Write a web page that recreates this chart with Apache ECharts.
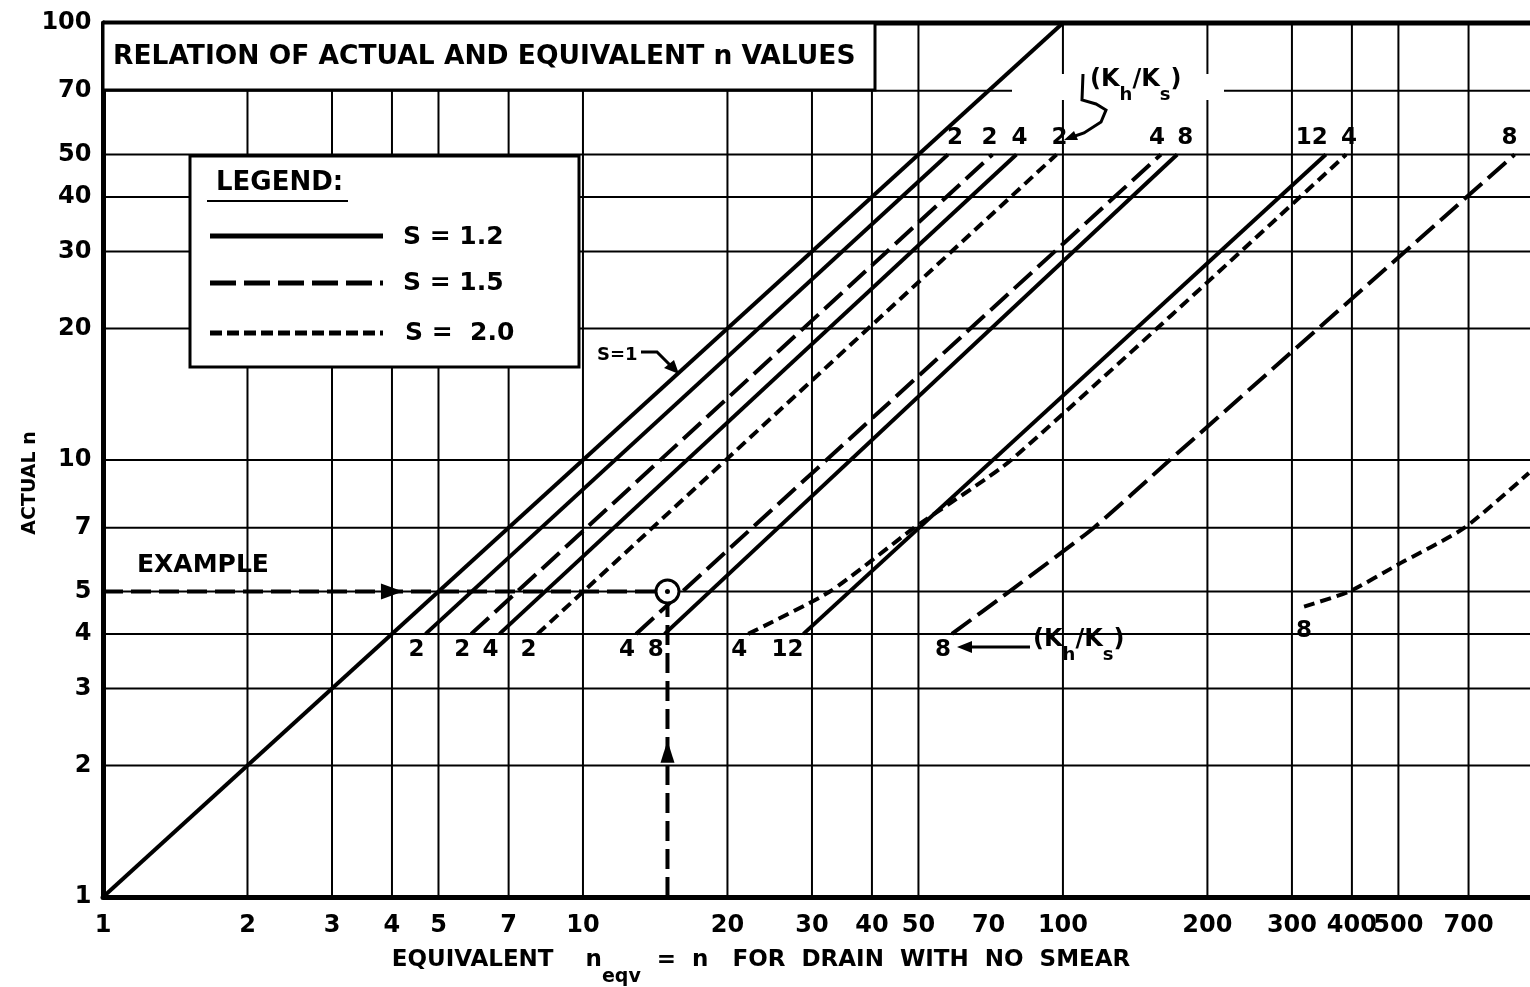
<!DOCTYPE html>
<html><head><meta charset="utf-8">
<script src="https://cdn.jsdelivr.net/npm/echarts@6/dist/echarts.min.js"></script>
<style>html,body{margin:0;padding:0;background:#fff}#c{width:1530px;height:987px}</style>
</head><body><div id="c"></div>
<script>
// ---- tick labels / grid values ----
const xTicks = [1, 2, 3, 4, 5, 7, 10, 20, 30, 40, 50, 70, 100, 200, 300, 400, 500, 700];
const yTicks = [1, 2, 3, 4, 5, 7, 10, 20, 30, 40, 50, 70, 100];
const xGridValues = [2, 3, 4, 5, 7, 10, 20, 30, 40, 50, 100, 200, 300, 400, 500, 700];
const yGridValues = [2, 3, 4, 5, 7, 10, 20, 30, 40, 50, 70];
const xAxisMax = 940, yAxisMax = 100;

// ---- curves: [equivalent n, actual n] ----
const lineS1 = [[1, 1], [100, 100]];
const s12k2 = [[4.7, 4], [57.6, 50]];
const s12k4 = [[6.7, 4], [80, 50]];
const s12k8 = [[14.8, 4], [173, 50]];
const s12k12 = [[28.8, 4], [353, 50]];
const s15k2 = [[5.85, 4], [71.3, 50]];
const s15k4 = [[12.9, 4], [160, 50]];
const s15k8 = [[58.7, 4], [77.3, 5], [116, 7], [167, 10], [873, 50]];
const s20k2 = [[8.04, 4], [97, 50]];
const s20k4 = [[22.1, 4], [32.7, 5], [49, 7], [78, 10], [389, 50]];
const s20k8 = [[318, 4.62], [395, 5], [497, 5.75], [687, 7], [935, 9.34]];

// ---- example ----
const exampleActual = 5;
const exampleEqv = 15;
const exampleArrowEqv = 4;
const exampleArrowActual = 2.15;

const FONT = '"DejaVu Sans", "Liberation Sans", sans-serif';
const dashBySmear = { '1.2': 'solid', '1.5': [24, 8], '2.0': [11, 6] };

const curves = [
  { data: s12k2, s: '1.2', k: '2' },
  { data: s15k2, s: '1.5', k: '2' },
  { data: s12k4, s: '1.2', k: '4' },
  { data: s20k2, s: '2.0', k: '2' },
  { data: s15k4, s: '1.5', k: '4' },
  { data: s12k8, s: '1.2', k: '8' },
  { data: s20k4, s: '2.0', k: '4', curved: true },
  { data: s12k12, s: '1.2', k: '12' },
  { data: s15k8, s: '1.5', k: '8', curved: true },
  { data: s20k8, s: '2.0', k: '8', curved: true }
];
// label placement styles (per curve index)
const topOffset = { 0: [7, 0], 1: [-3, 0], 4: [-4, 0], 5: [8, 0], 7: [-14, 0], 8: [-5, 0] };
const bottomOffset = { 7: [-16, 0], 9: [0, 8] };
const noTopLabel = { 9: true };

const series = [];
const base = { type: 'line', symbol: 'none', silent: true, animation: false, clip: false };

xGridValues.forEach(v => series.push(Object.assign({}, base, {
  data: [[v, 1], [v, yAxisMax]], lineStyle: { color: '#000', width: 2 }, z: 1 })));
yGridValues.forEach(v => series.push(Object.assign({}, base, {
  data: [[1, v], [xAxisMax, v]], lineStyle: { color: '#000', width: 2 }, z: 1 })));
series.push(Object.assign({}, base, {
  data: [[1, yAxisMax], [xAxisMax, yAxisMax]], lineStyle: { color: '#000', width: 5 }, z: 1 }));

series.push(Object.assign({}, base, { data: lineS1, lineStyle: { color: '#000', width: 4 }, z: 3 }));
curves.forEach(c => series.push(Object.assign({}, base, {
  data: c.data, smooth: c.curved ? 0.2 : false,
  lineStyle: { color: '#000', width: 4, type: dashBySmear[c.s] }, z: 3 })));

// curve end labels
const endLabels = [];
curves.forEach((c, i) => {
  const first = c.data[0], last = c.data[c.data.length - 1];
  endLabels.push({ value: first, label: { position: 'bottom', distance: 4, offset: bottomOffset[i] || [-9, 0], formatter: c.k } });
  if (!noTopLabel[i]) endLabels.push({ value: last, label: { position: 'top', distance: 5, offset: topOffset[i] || [3, 0], formatter: c.k } });
});
const labelStyle = { show: true, color: '#000', opacity: 1, fontFamily: FONT, fontWeight: 'bold', fontSize: 23 };
const hiddenItem = { color: 'rgba(0,0,0,0)', opacity: 1 };
series.push({ type: 'scatter', data: endLabels, symbolSize: 1, itemStyle: hiddenItem,
  label: labelStyle, silent: true, animation: false, clip: false, z: 6 });

// axis tick labels
series.push({ type: 'scatter', data: xTicks.map(v => [v, 1]), symbolSize: 1, itemStyle: hiddenItem,
  label: Object.assign({}, labelStyle, { fontSize: 24, position: 'bottom', distance: 16, formatter: p => String(p.value[0]) }),
  silent: true, animation: false, clip: false });
series.push({ type: 'scatter', data: yTicks.map(v => [1, v]), symbolSize: 1, itemStyle: hiddenItem,
  label: Object.assign({}, labelStyle, { fontSize: 24, position: 'left', distance: 11, formatter: p => String(p.value[1]) }),
  silent: true, animation: false, clip: false });

// example
const exDash = [20, 8];
const solidItem = { color: '#000', opacity: 1 };
series.push(Object.assign({}, base, { data: [[1, exampleActual], [exampleEqv, exampleActual]],
  lineStyle: { color: '#000', width: 4, type: exDash }, z: 4 }));
series.push(Object.assign({}, base, { data: [[exampleEqv, 1], [exampleEqv, exampleActual]],
  lineStyle: { color: '#000', width: 4, type: exDash }, z: 4 }));
series.push({ type: 'scatter', data: [[exampleEqv, exampleActual]], symbol: 'circle', symbolSize: 23,
  itemStyle: { color: '#fff', borderColor: '#000', borderWidth: 3, opacity: 1 }, silent: true, animation: false, z: 7 });
series.push({ type: 'scatter', data: [[exampleEqv, exampleActual]], symbol: 'circle', symbolSize: 5,
  itemStyle: solidItem, silent: true, animation: false, z: 8 });
series.push({ type: 'scatter', data: [[exampleArrowEqv, exampleActual]], symbol: 'triangle', symbolSize: [16, 22], symbolRotate: -90,
  itemStyle: solidItem, silent: true, animation: false, z: 8 });
series.push({ type: 'scatter', data: [[exampleEqv, exampleArrowActual]], symbol: 'triangle', symbolSize: [14, 22],
  itemStyle: solidItem, silent: true, animation: false, z: 8 });

const T = (text, x, y, size, extra) => Object.assign({ type: 'text', x: x, y: y, z: 60,
  style: Object.assign({ text: text, fill: '#000', font: 'bold ' + size + 'px ' + FONT, align: 'left', verticalAlign: 'middle' }, (extra && extra.style) || {}) },
  extra && extra.el || {});
const L = (x1, y1, x2, y2, w, dash) => ({ type: 'line', z: 60, shape: { x1, y1, x2, y2 },
  style: { stroke: '#000', lineWidth: w, lineDash: dash || null } });

const khks = (x, y) => ({ type: 'text', x: x, y: y, z: 61, style: {
  text: '{a|(K}{b|h}{a|/K}{b|s}{a|)}', align: 'left', verticalAlign: 'middle', fill: '#000',
  rich: { a: { fontFamily: FONT, fontWeight: 'bold', fontSize: 24, lineHeight: 30, verticalAlign: 'top' },
          b: { fontFamily: FONT, fontWeight: 'bold', fontSize: 18, lineHeight: 36, verticalAlign: 'bottom' } } } });

const graphics = [
  // title box
  { type: 'rect', z: 50, shape: { x: 103, y: 23, width: 772, height: 67 }, style: { fill: '#fff', stroke: '#000', lineWidth: 3 } },
  T('RELATION OF ACTUAL AND EQUIVALENT n VALUES', 113, 57, 26.5),
  // legend box
  { type: 'rect', z: 50, shape: { x: 190, y: 156, width: 389, height: 211 }, style: { fill: '#fff', stroke: '#000', lineWidth: 3 } },
  T('LEGEND:', 216, 183, 26),
  L(207, 201, 348, 201, 2),
  L(210, 236, 383, 236, 5),
  L(210, 283, 383, 283, 5, [26, 8]),
  L(210, 333, 383, 333, 5, [12, 5]),
  T('S = 1.2', 403, 237, 25),
  T('S = 1.5', 403, 283, 25),
  T('S =  2.0', 405, 333, 25),
  // S=1 pointer
  T('S=1', 597, 355, 18),
  { type: 'polyline', z: 60, shape: { points: [[641, 352], [657, 352], [670, 365]] }, style: { stroke: '#000', lineWidth: 3, fill: null } },
  { type: 'polygon', z: 60, shape: { points: [[664, 368], [674, 360], [679, 374]] }, style: { fill: '#000' } },
  // (Kh/Ks) top
  { type: 'rect', z: 55, shape: { x: 1012, y: 74, width: 212, height: 26 }, style: { fill: '#fff' } },
  khks(1090, 86),
  { type: 'polyline', z: 60, shape: { points: [[1083, 74], [1082, 100], [1096, 104], [1106, 110], [1101, 122], [1084, 133], [1072, 137]] },
    style: { stroke: '#000', lineWidth: 3, fill: null } },
  { type: 'polygon', z: 60, shape: { points: [[1064, 140], [1074, 131], [1078, 140]] }, style: { fill: '#000' } },
  // (Kh/Ks) bottom
  khks(1033, 646),
  L(966, 647, 1030, 647, 3),
  { type: 'polygon', z: 60, shape: { points: [[957, 647], [972, 641], [972, 653]] }, style: { fill: '#000' } },
  // example
  T('EXAMPLE', 137, 565, 25),
  // axis titles
  T('ACTUAL n', 30, 483, 19, { style: { align: 'center' }, el: { rotation: Math.PI / 2 } }),
  { type: 'text', x: 761, y: 968, z: 60, style: {
    text: '{a|EQUIVALENT    n}{b|eqv}{a|  =  n   FOR  DRAIN  WITH  NO  SMEAR}', align: 'center', verticalAlign: 'middle', fill: '#000',
    rich: { a: { fontFamily: FONT, fontWeight: 'bold', fontSize: 23, lineHeight: 28, verticalAlign: 'top' },
            b: { fontFamily: FONT, fontWeight: 'bold', fontSize: 19, lineHeight: 38, verticalAlign: 'bottom' } } } }
];

const option = {
  animation: false,
  backgroundColor: '#fff',
  grid: { left: 103, right: 0, top: 23, bottom: 90 },
  xAxis: { type: 'log', logBase: 10, min: 1, max: xAxisMax,
    axisLine: { onZero: false, lineStyle: { color: '#000', width: 5 } },
    axisTick: { show: false }, axisLabel: { show: false }, splitLine: { show: false } },
  yAxis: { type: 'log', logBase: 10, min: 1, max: yAxisMax,
    axisLine: { show: true, onZero: false, lineStyle: { color: '#000', width: 5 } },
    axisTick: { show: false }, axisLabel: { show: false }, splitLine: { show: false } },
  series: series,
  graphic: graphics
};
const chart = echarts.init(document.getElementById('c'), null, { renderer: 'canvas' });
chart.setOption(option);
</script></body></html>
